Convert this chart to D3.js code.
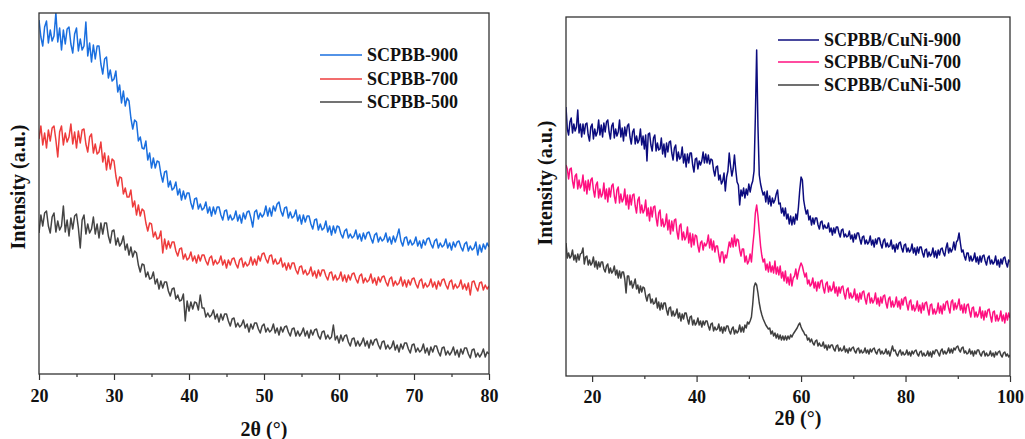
<!DOCTYPE html>
<html><head><meta charset="utf-8">
<script src="https://cdn.jsdelivr.net/npm/d3@7"></script>
<style>
body{margin:0;background:#fff}
svg{display:block}
text{font-family:"Liberation Serif","Times New Roman",serif;font-weight:bold;fill:#111}
</style>
</head><body>
<svg id="c" width="1025" height="439"></svg>
<script>
// ---------- data (intensity in a.u., sampled every 0.25° of 2θ) ----------
const leftNames = ["SCPBB-900","SCPBB-700","SCPBB-500"];
const leftStart = 20, leftEnd = 80, leftStep = 0.25;
const leftMajorTicks = [20,30,40,50,60,70,80];
const leftMinorTicks = [25,35,45,55,65,75];
const scpbb900 = [
354,337,328,347, 353,331,344,333, 338,361,332,346, 324,344,330,345, 347,330,321,340,
346,323,335,324, 328,352,318,331, 312,329,315,328, 328,310,300,315, 317,296,304,293,
295,303,282,289, 271,283,268,276, 273,256,245,254, 252,233,237,226, 225,233,214,221,
206,216,206,213, 212,200,192,202, 203,187,193,184, 186,192,179,185, 174,183,175,181,
181,171,165,175, 176,165,170,164, 166,172,161,167, 158,167,160,167, 167,159,154,163,
164,154,159,154, 156,163,153,159, 151,161,155,162, 163,156,147,162, 164,155,161,157,
160,168,158,166, 158,168,163,170, 172,163,158,166, 167,156,162,156, 158,164,153,159,
150,159,152,158, 158,150,145,154, 155,144,150,144, 146,153,142,148, 139,148,141,148,
147,140,136,143, 145,136,140,136, 138,144,135,140, 133,141,135,141, 142,136,131,139,
141,132,137,133, 135,141,132,137, 130,138,132,138, 145,133,128,136, 137,129,134,129,
131,137,128,133, 126,134,129,135, 136,130,126,133, 135,126,131,127, 129,135,126,131,
124,132,127,132, 133,127,123,130, 132,123,128,124, 126,132,119,129, 122,130,125,131,
127];
const scpbb700 = [
235,248,229,241, 226,244,233,246, 248,234,217,242, 248,229,241,232, 237,250,230,242,
226,243,231,244, 245,230,222,237, 240,221,230,220, 222,232,212,221, 204,218,205,215,
213,198,188,197, 196,180,186,177, 177,184,167,173, 159,169,158,165, 163,151,143,151,
150,137,142,135, 136,143,121,135, 125,133,126,132, 132,123,118,125, 126,115,120,114,
116,122,113,118, 111,119,113,119, 119,113,109,116, 118,109,114,110, 112,118,109,114,
106,114,109,115, 116,110,106,114, 116,107,112,108, 110,117,109,115, 109,118,113,120,
121,115,111,118, 119,110,115,110, 111,116,107,111, 104,111,105,111, 111,104,100,107,
108,100,104,99, 101,107,98,103, 96,104,98,104, 104,98,94,101, 102,94,99,94,
96,102,93,99, 92,99,94,100, 101,95,91,98, 100,91,96,92, 94,100,91,96,
89,97,92,97, 98,92,88,95, 97,88,93,89, 91,97,88,94, 87,94,89,95,
96,90,86,93, 95,86,91,87, 89,95,87,92, 85,93,88,94, 95,89,85,92,
94,85,90,86, 88,94,85,90, 84,91,79,92, 93,87,83,91, 92,84,89,85,
88];
const scpbb500 = [
141,159,148,161, 163,148,141,157, 161,142,153,144, 148,168,142,154, 138,156,145,158,
160,146,126,154, 159,140,150,141, 145,157,140,150, 136,151,140,151, 151,138,131,143,
144,129,136,128, 131,138,124,130, 119,127,117,123, 121,109,102,110, 109,97,102,95,
96,102,90,95, 85,93,86,92, 92,83,78,85, 86,75,79,73, 74,80,53,73,
63,72,65,72, 71,64,79,66, 66,57,61,57, 59,64,55,60, 52,60,54,60,
60,53,48,55, 56,47,51,47, 49,54,46,50, 42,50,45,51, 51,45,41,48,
50,42,46,42, 44,50,41,46, 39,47,42,47, 48,42,38,45, 46,38,43,38,
41,46,38,43, 36,44,39,44, 45,38,35,42, 43,35,39,35, 37,49,34,38,
31,39,33,38, 39,32,28,35, 36,28,33,28, 31,36,28,33, 26,34,29,34,
35,29,25,32, 33,25,29,25, 27,33,24,29, 22,30,25,31, 31,25,21,29,
30,22,26,22, 24,30,21,26, 19,27,22,28, 28,22,18,26, 27,19,23,19,
22,27,19,24, 17,25,20,26, 26,20,16,24, 25,17,21,17, 20,25,17,22,
20];

const rightNames = ["SCPBB/CuNi-900","SCPBB/CuNi-700","SCPBB/CuNi-500"];
const rightStart = 15, rightEnd = 100, rightStep = 0.25;
const rightMajorTicks = [20,40,60,80,100];
const rightMinorTicks = [30,50,70,90];
const cuni900 = [
269,247,241,254, 258,243,252,245, 249,266,243,252, 239,252,242,252, 253,241,235,249,
252,237,247,240, 244,256,241,251, 239,253,244,254, 256,244,237,250, 253,238,247,240,
244,256,239,248, 235,249,240,250, 252,239,232,244, 247,232,240,233, 236,247,231,240,
227,241,215,242, 243,231,225,238, 241,225,233,226, 227,238,222,232, 219,233,224,234,
235,223,216,228, 231,215,224,217, 219,229,213,222, 209,222,213,223, 223,211,204,217,
218,207,215,211, 215,224,213,222, 213,221,212,217, 216,206,200,209, 210,196,201,192,
195,203,185,199, 205,223,210,200, 207,221,206,194, 191,171,186,180, 188,178,187,181,
192,184,191,195, 205,259,326,249, 201,192,186,181, 184,174,185,172, 180,170,178,173,
176,182,186,172, 173,163,168,160, 168,157,162,152, 160,151,159,152, 162,156,169,186,
199,196,176,168, 162,166,156,160, 151,158,152,158, 158,151,147,154, 155,147,151,148,
148,153,144,148, 141,148,143,149, 149,143,139,146, 147,139,142,139, 140,145,137,141,
134,142,137,143, 143,137,132,139, 140,132,136,132, 134,140,131,136, 129,137,132,138,
138,132,128,135, 137,129,133,129, 130,136,127,131, 124,132,127,133, 134,128,124,131,
132,124,128,124, 126,132,123,128, 121,129,123,129, 129,123,119,126, 127,119,124,120,
122,128,119,125, 118,126,121,127, 128,123,120,128, 133,123,128,124, 127,134,126,134,
136,143,133,124, 126,120,116,123, 123,115,120,115, 117,123,114,119, 112,120,114,120,
121,115,111,118, 120,112,116,112, 114,120,111,116, 109,117,112,118, 119,113,109,116,
114];
const cuni700 = [
211,207,197,207, 208,195,188,200, 202,187,196,188, 191,201,185,195, 182,196,186,196,
198,186,179,191, 194,178,187,179, 182,193,177,187, 174,188,179,190, 192,180,173,186,
189,173,182,174, 177,187,171,181, 167,181,171,181, 182,170,163,176, 179,163,171,163,
166,176,160,168, 155,169,159,169, 170,158,150,163, 166,150,157,149, 152,162,146,156,
142,155,145,156, 157,144,137,150, 152,136,144,136, 139,149,133,143, 129,142,131,141,
140,130,124,133, 135,126,133,130, 133,141,128,137, 126,135,124,130, 130,121,114,124,
124,113,121,118, 126,134,129,138, 129,141,130,137, 136,126,120,127, 127,114,120,112,
115,122,114,130, 143,163,171,160, 145,130,120,114, 117,106,112,104, 114,104,110,103,
115,102,109,101, 110,98,104,95, 105,93,99,91, 102,90,98,100, 107,97,104,109,
113,110,104,99, 103,92,96,90, 92,98,88,94, 85,94,88,95, 96,88,83,92,
94,84,90,85, 87,94,83,89, 80,89,83,89, 90,82,77,86, 88,78,83,78,
80,87,76,82, 74,83,77,84, 85,77,72,81, 83,73,78,73, 76,83,72,78,
70,79,73,80, 81,73,68,77, 79,69,75,69, 72,79,69,75, 67,77,71,78,
79,72,66,74, 76,66,71,65, 68,75,65,71, 63,73,66,73, 74,67,61,71,
72,62,67,62, 65,73,63,70, 62,72,66,74, 75,68,63,74, 76,66,73,67,
71,77,66,71, 63,72,63,71, 72,65,59,68, 69,59,64,59, 62,69,58,65,
56,65,59,66, 67,60,54,64, 65,55,61,55, 58,65,55,61, 53,63,56,63,
58];
const cuni500 = [
133,118,123,118, 120,126,116,121, 114,122,116,122, 123,128,112,119, 120,111,116,111,
113,119,109,115, 107,114,109,114, 114,107,104,110, 112,103,108,103, 105,110,101,106,
98,105,98,104, 104,97,83,100, 100,91,95,88, 92,97,87,91, 83,90,84,89,
88,80,75,81, 82,73,77,72, 73,78,68,74, 66,73,67,73, 73,66,61,68,
69,60,65,60, 62,67,58,63, 55,62,57,63, 63,57,52,59, 60,51,56,51,
53,58,51,55, 49,55,51,55, 55,50,46,52, 53,45,49,46, 47,52,45,49,
43,49,45,50, 50,45,42,47, 49,42,46,43, 45,51,44,49, 44,51,48,54,
52,55,59,72, 89,93,91,83, 73,66,61,57, 54,51,49,47, 48,42,45,40,
43,38,42,37, 41,36,40,36, 40,36,40,37, 41,39,42,44, 46,48,51,53,
49,46,44,41, 41,36,38,34, 37,33,31,35, 36,30,33,30, 30,34,28,31,
26,31,28,31, 31,27,25,30, 31,25,28,25, 26,30,24,27, 23,28,25,28,
29,25,23,27, 28,23,26,23, 24,28,23,26, 22,27,24,27, 28,24,22,26,
27,22,25,22, 23,27,22,25, 20,25,30,25, 26,22,20,24, 26,21,24,21,
22,26,21,24, 20,25,22,25, 26,22,20,24, 25,20,23,20, 21,25,20,24,
19,25,22,26, 26,23,20,25, 27,22,25,22, 24,28,23,27, 23,28,26,29,
30,26,24,28, 29,23,25,22, 23,27,22,25, 20,25,22,26, 26,22,20,24,
25,20,23,20, 21,25,20,23, 19,24,21,24, 25,21,19,23, 24,20,22,19,
21];

// ---------- drawing ----------
const svg = d3.select("#c");
const fontStack = '"Liberation Serif","Times New Roman",serif';

function drawPanel(cfg){
  const x = d3.scaleLinear().domain(cfg.xDomain).range([cfg.left, cfg.right]);
  const y = d3.scaleLinear().domain(cfg.yDomain).range([cfg.bottom, cfg.top]);
  const g = svg.append("g");
  const clipId = "clip-" + cfg.id;
  svg.append("clipPath").attr("id", clipId).append("rect")
    .attr("x", cfg.left).attr("y", cfg.top)
    .attr("width", cfg.right - cfg.left).attr("height", cfg.bottom - cfg.top);
  const line = d3.line().x(d => x(d[0])).y(d => y(d[1]));
  const lines = g.append("g").attr("clip-path", `url(#${clipId})`);
  cfg.series.forEach((s, i) => {
    const pts = s.values.map((v, j) => [cfg.start + j * cfg.step, v]);
    lines.append("path").datum(pts)
      .attr("d", line).attr("fill", "none")
      .attr("stroke", cfg.colors[i]).attr("stroke-width", 1.5)
      .attr("stroke-linejoin", "round");
  });
  // frame
  g.append("rect").attr("x", cfg.left).attr("y", cfg.top)
    .attr("width", cfg.right - cfg.left).attr("height", cfg.bottom - cfg.top)
    .attr("fill", "none").attr("stroke", "#333").attr("stroke-width", 1.3);
  // minor ticks
  const minor = g.append("g").attr("transform", `translate(0,${cfg.bottom})`)
    .call(d3.axisBottom(x).tickValues(cfg.minorTicks).tickSize(3).tickFormat(""));
  minor.select(".domain").remove();
  minor.selectAll("line").attr("stroke", "#333").attr("stroke-width", 1.2);
  // major ticks
  const major = g.append("g").attr("transform", `translate(0,${cfg.bottom})`)
    .call(d3.axisBottom(x).tickValues(cfg.majorTicks).tickSize(6).tickPadding(cfg.tickPad).tickFormat(d3.format("d")));
  major.select(".domain").remove();
  major.selectAll("line").attr("stroke", "#333").attr("stroke-width", 1.2);
  major.selectAll("text").attr("font-family", fontStack).attr("font-weight", "bold")
    .attr("font-size", 18).attr("fill", "#111");
  // axis titles
  g.append("text").attr("x", cfg.xTitleX).attr("y", cfg.xTitleY)
    .attr("text-anchor", "middle").attr("font-size", 20).text("2θ (°)");
  g.append("text").attr("transform", `translate(${cfg.yTitleX},${cfg.yTitleY}) rotate(-90)`)
    .attr("text-anchor", "middle").attr("font-size", 20).text("Intensity (a.u.)");
  // legend
  cfg.names.forEach((n, i) => {
    const ly = cfg.legendY[i];
    g.append("line").attr("x1", cfg.legendX).attr("x2", cfg.legendX + cfg.legendLen)
      .attr("y1", ly).attr("y2", ly).attr("stroke", cfg.colors[i]).attr("stroke-width", 1.4);
    g.append("text").attr("x", cfg.legendX + cfg.legendLen + 5).attr("y", ly + 6)
      .attr("font-size", 18).text(n);
  });
}

drawPanel({
  id: "left", left: 39, right: 489, top: 13, bottom: 374,
  xDomain: [leftStart, leftEnd], yDomain: [0, 361],
  start: leftStart, step: leftStep,
  series: [{values: scpbb900}, {values: scpbb700}, {values: scpbb500}],
  colors: ["#1a6fdf", "#ee3c3c", "#444444"],
  names: leftNames,
  majorTicks: leftMajorTicks, minorTicks: leftMinorTicks, tickPad: 9,
  xTitleX: 264, xTitleY: 436, yTitleX: 25, yTitleY: 187,
  legendX: 320, legendLen: 42, legendY: [55, 79, 102]
});

drawPanel({
  id: "right", left: 566, right: 1010, top: 17, bottom: 376,
  xDomain: [rightStart, rightEnd], yDomain: [0, 359],
  start: rightStart, step: rightStep,
  series: [{values: cuni900}, {values: cuni700}, {values: cuni500}],
  colors: ["#0c0c7e", "#ff1080", "#404040"],
  names: rightNames,
  majorTicks: rightMajorTicks, minorTicks: rightMinorTicks, tickPad: 8,
  xTitleX: 798, xTitleY: 425, yTitleX: 552, yTitleY: 183,
  legendX: 778, legendLen: 41, legendY: [40, 62, 85]
});
</script>
</body></html>
